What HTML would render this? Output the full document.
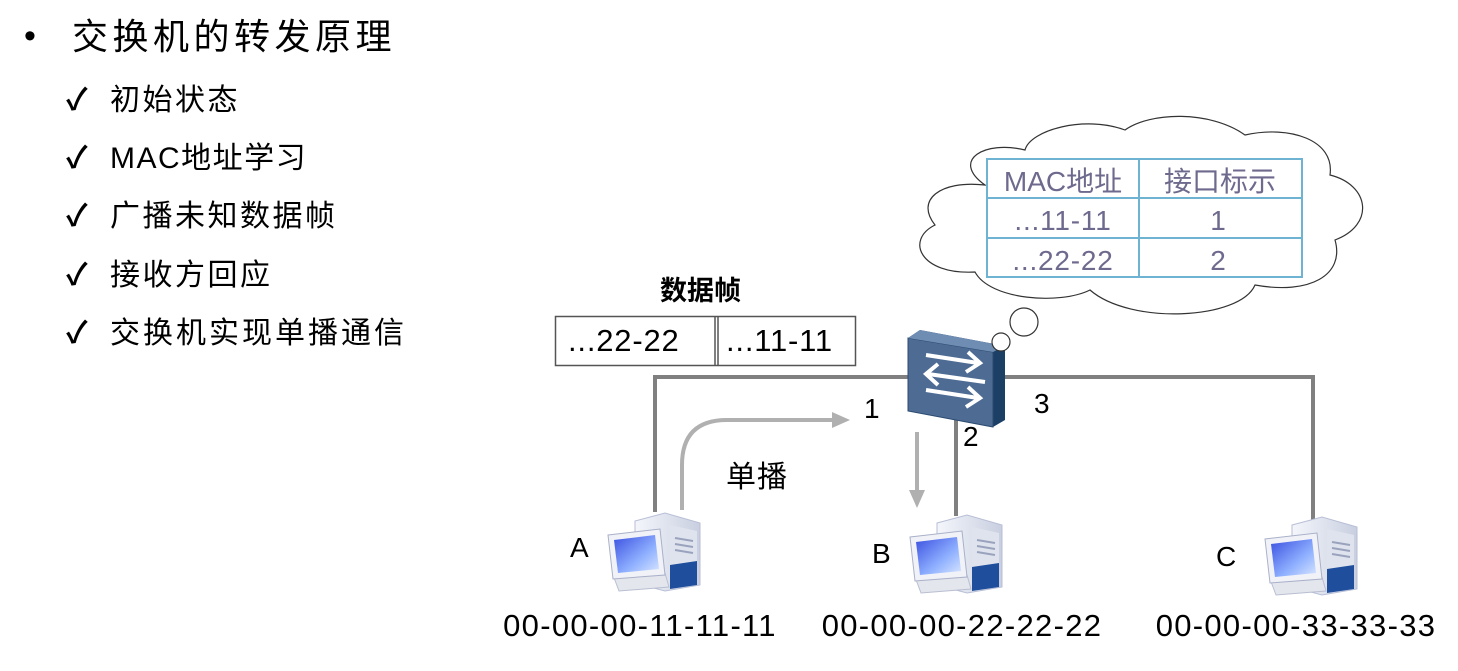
<!DOCTYPE html>
<html><head><meta charset="utf-8"><style>
html,body{margin:0;padding:0;background:#fff;}
body{width:1458px;height:671px;overflow:hidden;position:relative;font-family:"Liberation Sans","Noto Sans CJK SC",sans-serif;}
svg{position:absolute;left:0;top:0;}
text{font-family:"Liberation Sans","Noto Sans CJK SC",sans-serif;}
</style></head><body>
<svg width="1458" height="671" viewBox="0 0 1458 671">
<defs>
<linearGradient id="scr" x1="0" y1="0" x2="1" y2="1"><stop offset="0" stop-color="#3a4fe0"/><stop offset="0.6" stop-color="#8fb0ff"/><stop offset="1" stop-color="#d8e6ff"/></linearGradient>
<linearGradient id="tw" x1="0" y1="0" x2="1" y2="0"><stop offset="0" stop-color="#f4f6fb"/><stop offset="1" stop-color="#c9cfe0"/></linearGradient>
<g id="pc">
<polygon points="0,8 30,0 65,10 65,72 30,78 0,70" fill="url(#tw)" stroke="#b8bfd6"/>
<polygon points="35,12 62,18 62,72 35,76" fill="#dfe3ee"/>
<line x1="40" y1="25" x2="58" y2="28" stroke="#9aa3bd" stroke-width="2"/>
<line x1="40" y1="31" x2="58" y2="34" stroke="#9aa3bd" stroke-width="2"/>
<line x1="40" y1="37" x2="58" y2="40" stroke="#9aa3bd" stroke-width="2"/>
<polygon points="35,52 62,48 62,72 35,76" fill="#1f4e9c"/>
<polygon points="-22,62 30,60 34,74 -16,78" fill="#e4e6ee" stroke="#b9bfd1"/>
<polygon points="-27,22 25,16 30,62 -22,66" fill="#f0f2f8" stroke="#a9b0c8"/>
<polygon points="-21,27 20,22 24,56 -17,60" fill="url(#scr)"/>
</g>
</defs>

<text x="24" y="47" font-size="34" fill="#000">•</text>
<text x="72" y="49" font-size="36" letter-spacing="4.5" fill="#000">交换机的转发原理</text>
<g font-size="30" fill="#000">
<text x="66" y="110" font-weight="bold">✓</text><text x="110" y="110" letter-spacing="2.5">初始状态</text>
<text x="66" y="168" font-weight="bold">✓</text><text x="110" y="168" letter-spacing="1.5">MAC地址学习</text>
<text x="66" y="226" font-weight="bold">✓</text><text x="110" y="226" letter-spacing="2.5">广播未知数据帧</text>
<text x="66" y="285" font-weight="bold">✓</text><text x="110" y="285" letter-spacing="2.5">接收方回应</text>
<text x="66" y="343" font-weight="bold">✓</text><text x="110" y="343" letter-spacing="3">交换机实现单播通信</text>
</g>

<text x="660" y="300" font-size="27" font-weight="bold" fill="#000">数据帧</text>
<rect x="555.5" y="316.5" width="300" height="49" fill="#fff" stroke="#555" stroke-width="1.5"/>
<line x1="715" y1="316" x2="715" y2="366" stroke="#555" stroke-width="1.5"/>
<line x1="718" y1="316" x2="718" y2="366" stroke="#555" stroke-width="1.5"/>
<text x="568" y="351" font-size="31" letter-spacing="0.8" fill="#000">...22-22</text>
<text x="726" y="351" font-size="31" letter-spacing="0.8" fill="#000">...11-11</text>

<g stroke="#808080" stroke-width="4" fill="none">
<polyline points="655,512 655,377 1313,377 1313,520"/>
<line x1="956" y1="410" x2="956" y2="516"/>
</g>

<g stroke="#b0b0b0" stroke-width="4" fill="none">
<path d="M682,510 L682,465 Q682,420 727,420 L835,420"/>
<line x1="917" y1="432" x2="917" y2="492"/>
</g>
<polygon points="832,412 850,420 832,428" fill="#b0b0b0"/>
<polygon points="909,490 925,490 917,508" fill="#b0b0b0"/>

<g font-size="28" fill="#000">
<text x="864" y="418">1</text>
<text x="963" y="446">2</text>
<text x="1034" y="413">3</text>
<text x="726" y="487" font-size="30" letter-spacing="1">单播</text>
<text x="570" y="557">A</text>
<text x="872" y="563">B</text>
<text x="1216" y="566">C</text>
</g>

<polygon points="908,338 920,330 1005,346 1005,420 993,427 908,411" fill="#1c3f66"/>
<polygon points="908,338 993,352 993,427 908,411" fill="#4d6b93" stroke="#2b4a70"/>
<polygon points="908,338 920,330 1005,346 993,352" fill="#6f8db3"/>
<g stroke="#fff" stroke-width="4" fill="none">
<line x1="926" y1="355" x2="978" y2="363"/><polyline points="968,352 980,363 966,372"/>
<line x1="928" y1="374" x2="985" y2="382"/><polyline points="938,364 926,374 938,385"/>
<line x1="926" y1="390" x2="978" y2="398"/><polyline points="968,387 980,398 966,407"/>
</g>

<g fill="#fff" stroke="#333" stroke-width="1.2">
<path d="M985,185 C940,180 915,200 935,225 C905,240 920,275 975,272 C990,300 1060,305 1090,290 C1130,325 1240,320 1255,285 C1310,295 1345,275 1335,240 C1375,225 1370,185 1330,175 C1335,140 1290,125 1245,135 C1210,110 1150,112 1125,130 C1085,115 1030,130 1025,150 C985,140 950,160 985,185 Z"/>
<circle cx="1024" cy="322" r="14"/>
<circle cx="1001" cy="342" r="9"/>
</g>

<g stroke="#6fb3d3" stroke-width="2" fill="none">
<rect x="987" y="159" width="315" height="118"/>
<line x1="987" y1="198" x2="1302" y2="198"/>
<line x1="987" y1="238" x2="1302" y2="238"/>
<line x1="1139" y1="159" x2="1139" y2="277"/>
</g>
<g font-size="28" fill="#6e6a8e" text-anchor="middle">
<text x="1063" y="191">MAC地址</text>
<text x="1220" y="191">接口标示</text>
<text x="1063" y="230" letter-spacing="0.8">...11-11</text>
<text x="1218" y="230">1</text>
<text x="1063" y="270" letter-spacing="0.8">...22-22</text>
<text x="1218" y="270">2</text>
</g>

<use href="#pc" x="635" y="513"/>
<use href="#pc" x="937" y="515"/>
<use href="#pc" x="1292" y="517"/>

<g font-size="31" fill="#000" text-anchor="middle" letter-spacing="1.3">
<text x="640" y="636">00-00-00-11-11-11</text>
<text x="962" y="636">00-00-00-22-22-22</text>
<text x="1296" y="636">00-00-00-33-33-33</text>
</g>
</svg>
</body></html>
